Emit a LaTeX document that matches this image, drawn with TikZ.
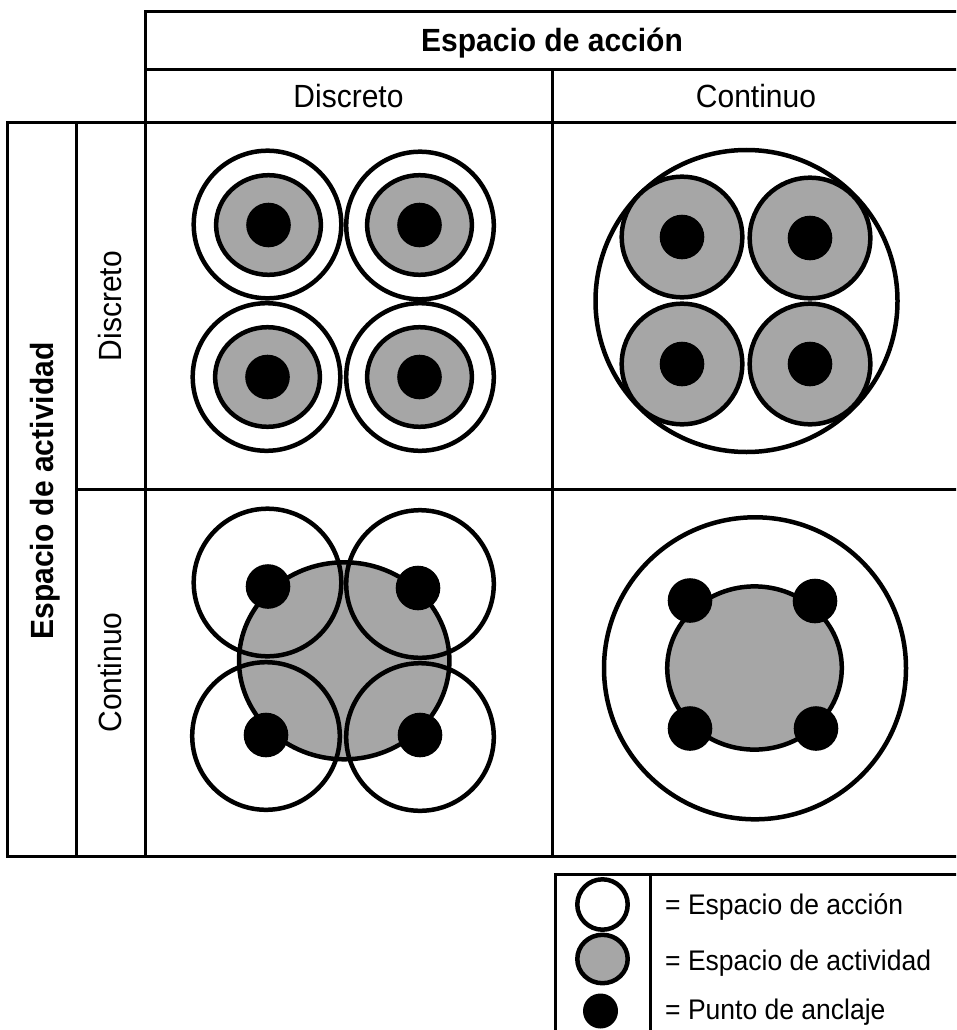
\documentclass[tikz,border=0pt]{standalone}
\usepackage{graphicx}
\usepackage{fontspec}
\setmainfont{Liberation Sans}
\definecolor{actgray}{HTML}{A6A6A6}
\newcommand{\talltxt}[1]{\scalebox{1}[1.07]{#1}}
\begin{document}
\begin{tikzpicture}[x=1pt,y=-1pt,
  tbl/.style={line width=3pt, line join=miter},
  ring/.style={line width=4.5pt, draw=black, fill=white},
  ringopen/.style={line width=4.5pt, draw=black},
  act/.style={line width=4.5pt, draw=black, fill=actgray},
  anchorpt/.style={fill=black},
  hdr/.style={font=\fontsize{30}{36}\selectfont, inner sep=0pt, anchor=base},
  hdrb/.style={font=\fontsize{30}{36}\selectfont\bfseries, inner sep=0pt, anchor=base},
  leg/.style={font=\fontsize{26.5}{32}\selectfont, inner sep=0pt, anchor=base west}]
\useasboundingbox (0,0) rectangle (956,1030);
\clip (0,0) rectangle (956,1030);
\fill[white] (0,0) rectangle (956,1030);

% ---------- table ----------
\draw[tbl] (970,12) -- (145,12) -- (145,123) -- (7,123) -- (7,856) -- (970,856);
\draw[tbl] (145,70) -- (970,70);
\draw[tbl] (145,123) -- (970,123);
\draw[tbl] (76.5,489) -- (970,489);
\draw[tbl] (145,123) -- (145,856);
\draw[tbl] (76.5,123) -- (76.5,856);
\draw[tbl] (552.5,70) -- (552.5,856);

% ---------- header texts ----------
\node[hdrb] (hAccion) at (552,51.5) {\talltxt{Espacio de acción}};
\node[hdr] (hDisc) at (348.5,108) {\talltxt{Discreto}};
\node[hdr] (hCont) at (756,108) {\talltxt{Continuo}};
\node[hdrb, rotate=90] (vAct) at (53.3,491) {\talltxt{Espacio de actividad}};
\node[hdr, rotate=90] (vDisc) at (121.5,306) {\talltxt{Discreto}};
\node[hdr, rotate=90] (vCont) at (121.5,672.5) {\talltxt{Continuo}};

% ---------- cell 1: discreto / discreto ----------
\foreach \cx/\cy in {267.5/224.5, 420/225.5, 266.5/377, 420/377}{
  \draw[ring] (\cx,\cy) circle [radius=73.8pt];
}
\foreach \cx/\cy in {268.5/225, 419.5/225, 267.5/377, 419.5/377}{
  \draw[act] (\cx,\cy) ellipse [x radius=52.4pt, y radius=49.8pt];
  \fill[anchorpt] (\cx,\cy) circle [radius=22.3pt];
}

% ---------- cell 2: continuo accion / discreto actividad ----------
\draw[ring] (746.5,301) circle [radius=151pt];
\foreach \cx/\cy in {682/237, 810/238, 682/364, 810/364}{
  \draw[act] (\cx,\cy) circle [radius=60.3pt];
  \fill[anchorpt] (\cx,\cy) circle [radius=22.3pt];
}

% ---------- cell 3: discreto accion / continuo actividad ----------
\draw[act] (344.2,660.8) ellipse [x radius=105.2pt, y radius=98.5pt];
\foreach \cx/\cy in {267.5/582.5, 420/584, 266/736, 420/737}{
  \draw[ringopen] (\cx,\cy) circle [radius=73.8pt];
}
\foreach \cx/\cy in {268/586.5, 418/588, 266/735, 420/735}{
  \fill[anchorpt] (\cx,\cy) circle [radius=22.3pt];
}

% ---------- cell 4: continuo / continuo ----------
\draw[ring] (755,668.3) circle [radius=151pt];
\draw[act] (754.5,668) ellipse [x radius=87.3pt, y radius=81.6pt];
\foreach \cx/\cy in {690/600.5, 815/601, 690/728.5, 816/728.5}{
  \fill[anchorpt] (\cx,\cy) circle [radius=22.3pt];
}

% ---------- legend ----------
\draw[tbl] (970,874) -- (555,874) -- (555,1045);
\draw[tbl] (650,874) -- (650,1045);
\draw[ring] (602.5,904.5) circle [radius=25.2pt];
\draw[act] (602.5,959) ellipse [x radius=25.2pt, y radius=24.2pt];
\fill[anchorpt] (600.5,1011) circle [radius=17.5pt];
\node[leg] (lAccion) at (665,914.5) {\talltxt{= Espacio de acción}};
\node[leg] (lAct) at (665,970) {\talltxt{= Espacio de actividad}};
\node[leg] (lAnc) at (665,1019.5) {\talltxt{= Punto de anclaje}};
\end{tikzpicture}
\end{document}
